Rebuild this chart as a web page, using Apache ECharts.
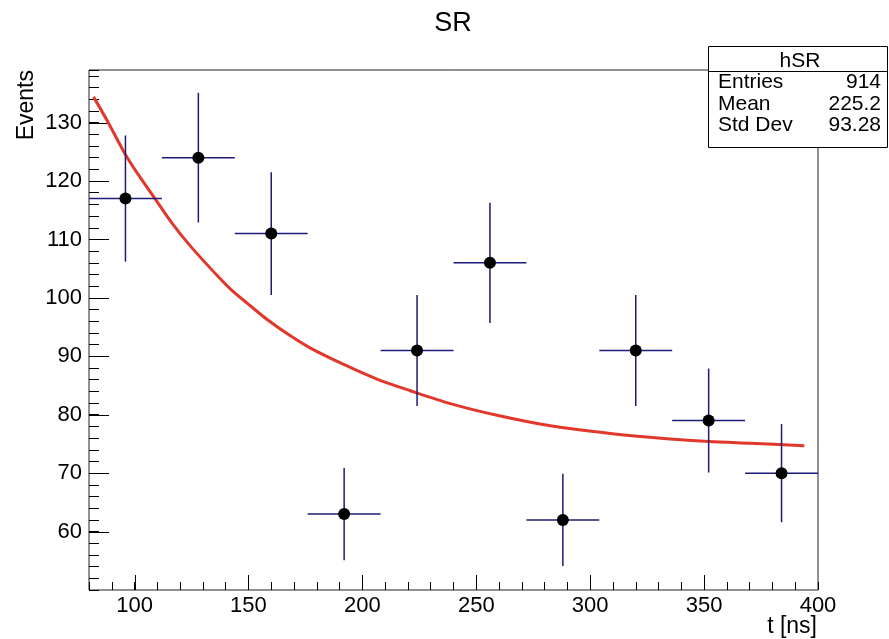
<!DOCTYPE html>
<html>
<head>
<meta charset="utf-8">
<script src="https://cdn.jsdelivr.net/npm/echarts@6/dist/echarts.min.js"></script>
<style>
html,body{margin:0;padding:0;background:#fff;}
#chart{width:889px;height:639px;}
</style>
</head>
<body>
<div id="chart"></div>
<script>
// ---- data ----
var binCenters = [96, 128, 160, 192, 224, 256, 288, 320, 352, 384];
var binHalfWidth = 16;
var counts = [117, 124, 111, 63, 91, 106, 62, 91, 79, 70];
var errors = [10.8, 11.1, 10.5, 7.9, 9.5, 10.3, 7.9, 9.5, 8.9, 8.4];
var fitX = [82.0, 88.6, 95.9, 101.8, 109.1, 116.4, 125.1, 136.8, 142.1, 149.4, 158.2, 168.4, 177.2, 191.8, 206.4, 221.1, 238.6, 259.1, 282.5, 308.8, 333.6, 352, 370.2, 394];
var fitY = [134.4, 129.9, 124.6, 121.0, 116.9, 112.8, 108.6, 103.6, 101.5, 99.1, 96.3, 93.5, 91.4, 88.6, 86.1, 84.1, 81.9, 79.9, 78.1, 76.8, 75.9, 75.4, 75.1, 74.7];
var xMajorTicks = [100, 150, 200, 250, 300, 350];
var yMajorTicks = [60, 70, 80, 90, 100, 110, 120, 130];
var xMin = 80, xMax = 400, yMin = 50, yMax = 139;
var statsTitle = 'hSR';
var statsNames = ['Entries', 'Mean', 'Std Dev'];
var statsValues = ['914', '225.2', '93.28'];

var FONT = '"Liberation Sans", Arial, sans-serif';
var chart = echarts.init(document.getElementById('chart'), null, {renderer: 'canvas'});

var pointData = binCenters.map(function (x, i) {
  return [x, counts[i], x - binHalfWidth, x + binHalfWidth, counts[i] - errors[i], counts[i] + errors[i]];
});
var fitData = fitX.map(function (x, i) { return [x, fitY[i]]; });

var errColor = '#1c1c78';

var graphics = [
  {type: 'text', x: 453, y: 24, silent: true,
   style: {text: 'SR', font: '27px ' + FONT, fill: '#000', textAlign: 'center', textVerticalAlign: 'middle'}},
  {type: 'text', x: 27, y: 70, rotation: Math.PI / 2, silent: true,
   style: {text: 'Events', font: '23px ' + FONT, fill: '#000', textAlign: 'right', textVerticalAlign: 'middle'}},
  {type: 'text', x: 817, y: 627, silent: true,
   style: {text: 't [ns]', font: '23px ' + FONT, fill: '#000', textAlign: 'right', textVerticalAlign: 'middle'}},
  {type: 'rect', shape: {x: 708.5, y: 46.5, width: 179, height: 101}, z: 100, silent: true,
   style: {fill: '#fff', stroke: '#000', lineWidth: 1}},
  {type: 'line', shape: {x1: 708.5, y1: 71.5, x2: 887.5, y2: 71.5}, z: 101, silent: true,
   style: {stroke: '#000', lineWidth: 1}},
  {type: 'text', x: 800, y: 61, z: 101, silent: true,
   style: {text: statsTitle, font: '21px ' + FONT, fill: '#000', textAlign: 'center', textVerticalAlign: 'middle'}}
];
var rowY = [82, 104, 125.5];
statsNames.forEach(function (n, i) {
  graphics.push({type: 'text', x: 718, y: rowY[i], z: 101, silent: true,
    style: {text: n, font: '21px ' + FONT, fill: '#000', textAlign: 'left', textVerticalAlign: 'middle'}});
  graphics.push({type: 'text', x: 881, y: rowY[i], z: 101, silent: true,
    style: {text: statsValues[i], font: '21px ' + FONT, fill: '#000', textAlign: 'right', textVerticalAlign: 'middle'}});
});

var option = {
  backgroundColor: '#fff',
  animation: false,
  grid: {left: 89, right: 71, top: 70, bottom: 49, show: true, borderColor: '#222', borderWidth: 1, backgroundColor: 'transparent'},
  xAxis: {
    type: 'value', min: xMin, max: xMax, interval: 10,
    axisLine: {show: false},
    axisTick: {show: true, inside: true, length: 8, lineStyle: {color: '#000', width: 1}},
    axisLabel: {margin: 5, fontSize: 22, fontFamily: FONT, color: '#000',
      formatter: function (v) { return (v % 50 === 0 && v > xMin) ? String(v) : ''; }},
    splitLine: {show: false}
  },
  yAxis: {
    type: 'value', min: yMin, max: yMax, interval: 2,
    axisLine: {show: false},
    axisTick: {show: true, inside: true, length: 10, lineStyle: {color: '#000', width: 1}},
    axisLabel: {margin: 7, fontSize: 22, fontFamily: FONT, color: '#000',
      formatter: function (v) { return (v % 10 === 0 && v > yMin) ? String(v) : ''; }},
    splitLine: {show: false}
  },
  graphic: graphics,
  series: [
    {
      type: 'custom', name: 'xMajor', silent: true, z: 3,
      data: xMajorTicks.map(function (v) { return [v, yMin]; }),
      renderItem: function (params, api) {
        var p = api.coord([api.value(0), yMin]);
        var x = Math.round(p[0]) + 0.5;
        return {type: 'line', shape: {x1: x, y1: p[1], x2: x, y2: p[1] - 15}, style: {stroke: '#000', lineWidth: 1}};
      }
    },
    {
      type: 'custom', name: 'yMajor', silent: true, z: 3,
      data: yMajorTicks.map(function (v) { return [xMin, v]; }),
      renderItem: function (params, api) {
        var p = api.coord([xMin, api.value(1)]);
        var y = Math.round(p[1]) + 0.5;
        return {type: 'line', shape: {x1: p[0], y1: y, x2: p[0] + 20, y2: y}, style: {stroke: '#000', lineWidth: 1}};
      }
    },
    {
      type: 'line', name: 'fit', data: fitData, smooth: 0.3, showSymbol: false, silent: true, z: 4,
      lineStyle: {color: '#e2382b', width: 3}
    },
    {
      type: 'custom', name: 'hSR', z: 5,
      data: pointData,
      renderItem: function (params, api) {
        var c = api.coord([api.value(0), api.value(1)]);
        var l = api.coord([api.value(2), api.value(1)]);
        var r = api.coord([api.value(3), api.value(1)]);
        var lo = api.coord([api.value(0), api.value(4)]);
        var hi = api.coord([api.value(0), api.value(5)]);
        return {type: 'group', children: [
          {type: 'line', shape: {x1: l[0], y1: c[1], x2: r[0], y2: c[1]}, style: {stroke: errColor, lineWidth: 1.5}},
          {type: 'line', shape: {x1: c[0], y1: lo[1], x2: c[0], y2: hi[1]}, style: {stroke: errColor, lineWidth: 1.5}},
          {type: 'circle', shape: {cx: c[0], cy: c[1], r: 6}, style: {fill: '#000'}}
        ]};
      }
    }
  ]
};
chart.setOption(option);
</script>
</body>
</html>
